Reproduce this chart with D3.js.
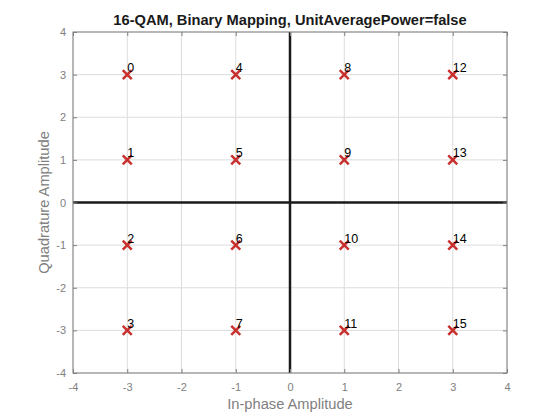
<!DOCTYPE html>
<html>
<head>
<meta charset="utf-8">
<script src="https://cdn.jsdelivr.net/npm/d3@7"></script>
<style>
  body { margin: 0; background: #fff; }
  svg { font-family: "Liberation Sans", Arial, Helvetica, sans-serif; }
</style>
</head>
<body>
<script>
// constellation points, symbol index = position in the arrays
var inPhase = [-3, -3, -3, -3, -1, -1, -1, -1, 1, 1, 1, 1, 3, 3, 3, 3];
var quadrature = [3, 1, -1, -3, 3, 1, -1, -3, 3, 1, -1, -3, 3, 1, -1, -3];
var symbolLabels = ["0", "1", "2", "3", "4", "5", "6", "7", "8", "9", "10", "11", "12", "13", "14", "15"];
var ticks = [-4, -3, -2, -1, 0, 1, 2, 3, 4];

var width = 560, height = 420;
var margin = {left: 73, right: 53, top: 32, bottom: 47};

var svg = d3.select("body").append("svg")
    .attr("width", width)
    .attr("height", height);

var x = d3.scaleLinear().domain([-4, 4]).range([margin.left, width - margin.right]);
var y = d3.scaleLinear().domain([-4, 4]).range([height - margin.bottom, margin.top]);

// grid
var grid = svg.append("g").attr("class", "grid");
grid.selectAll("line.gx")
    .data(ticks)
  .enter().append("line")
    .attr("x1", function (d) { return x(d); })
    .attr("x2", function (d) { return x(d); })
    .attr("y1", y(-4))
    .attr("y2", y(4))
    .attr("stroke", "#dcdcdc")
    .attr("stroke-width", 1);
grid.selectAll("line.gy")
    .data(ticks)
  .enter().append("line")
    .attr("y1", function (d) { return y(d); })
    .attr("y2", function (d) { return y(d); })
    .attr("x1", x(-4))
    .attr("x2", x(4))
    .attr("stroke", "#dcdcdc")
    .attr("stroke-width", 1);

// axes through origin
svg.append("line")
    .attr("x1", x(0)).attr("x2", x(0))
    .attr("y1", y(-4)).attr("y2", y(4))
    .attr("stroke", "#1a1a1a").attr("stroke-width", 2.5);
svg.append("line")
    .attr("y1", y(0)).attr("y2", y(0))
    .attr("x1", x(-4)).attr("x2", x(4))
    .attr("stroke", "#1a1a1a").attr("stroke-width", 2.5);

// box with inward ticks
var tickLen = 4;
var plainNum = function (d) { return String(d); };
var styleAxis = function (g) {
  g.select(".domain").remove();
  g.selectAll(".tick line").attr("stroke", "#808080");
  g.selectAll(".tick text")
      .attr("fill", "#808080")
      .style("font-size", "11px");
};

svg.append("g")
    .attr("transform", "translate(0," + y(-4) + ")")
    .call(d3.axisBottom(x).tickValues(ticks).tickFormat(plainNum)
      .tickSizeInner(-tickLen).tickSizeOuter(0).tickPadding(10))
    .call(styleAxis);
svg.append("g")
    .attr("transform", "translate(0," + y(4) + ")")
    .call(d3.axisTop(x).tickValues(ticks).tickSizeInner(-tickLen).tickSizeOuter(0).tickFormat(""))
    .call(styleAxis);
svg.append("g")
    .attr("transform", "translate(" + x(-4) + ",0)")
    .call(d3.axisLeft(y).tickValues(ticks).tickFormat(plainNum)
      .tickSizeInner(-tickLen).tickSizeOuter(0).tickPadding(7))
    .call(styleAxis);
svg.append("g")
    .attr("transform", "translate(" + x(4) + ",0)")
    .call(d3.axisRight(y).tickValues(ticks).tickSizeInner(-tickLen).tickSizeOuter(0).tickFormat(""))
    .call(styleAxis);

svg.append("rect")
    .attr("x", x(-4)).attr("y", y(4))
    .attr("width", x(4) - x(-4)).attr("height", y(-4) - y(4))
    .attr("fill", "none")
    .attr("stroke", "#808080")
    .attr("stroke-width", 1);

// points
var pts = d3.range(inPhase.length);
var s = 4.5;
svg.append("g").selectAll("path")
    .data(pts)
  .enter().append("path")
    .attr("d", function (i) {
      var cx = x(inPhase[i]), cy = y(quadrature[i]);
      return "M" + (cx - s) + "," + (cy - s) + "L" + (cx + s) + "," + (cy + s) +
             "M" + (cx - s) + "," + (cy + s) + "L" + (cx + s) + "," + (cy - s);
    })
    .attr("stroke", "#c8302e")
    .attr("stroke-width", 2.5)
    .attr("fill", "none");

svg.append("g").selectAll("text")
    .data(pts)
  .enter().append("text")
    .attr("x", function (i) { return x(inPhase[i]); })
    .attr("y", function (i) { return y(quadrature[i]) - 2.5; })
    .attr("fill", "#000")
    .style("font-size", "12.5px")
    .text(function (i) { return symbolLabels[i]; });

// labels
svg.append("text")
    .attr("x", (x(-4) + x(4)) / 2)
    .attr("y", 24.5)
    .attr("text-anchor", "middle")
    .attr("fill", "#1a1a1a")
    .style("font-size", "14.67px")
    .style("font-weight", "bold")
    .text("16-QAM, Binary Mapping, UnitAveragePower=false");

svg.append("text")
    .attr("x", (x(-4) + x(4)) / 2)
    .attr("y", 409)
    .attr("text-anchor", "middle")
    .attr("fill", "#808080")
    .style("font-size", "14.67px")
    .text("In-phase Amplitude");

svg.append("text")
    .attr("transform", "translate(49," + ((y(-4) + y(4)) / 2) + ") rotate(-90)")
    .attr("text-anchor", "middle")
    .attr("fill", "#808080")
    .style("font-size", "14.67px")
    .text("Quadrature Amplitude");
</script>
</body>
</html>
